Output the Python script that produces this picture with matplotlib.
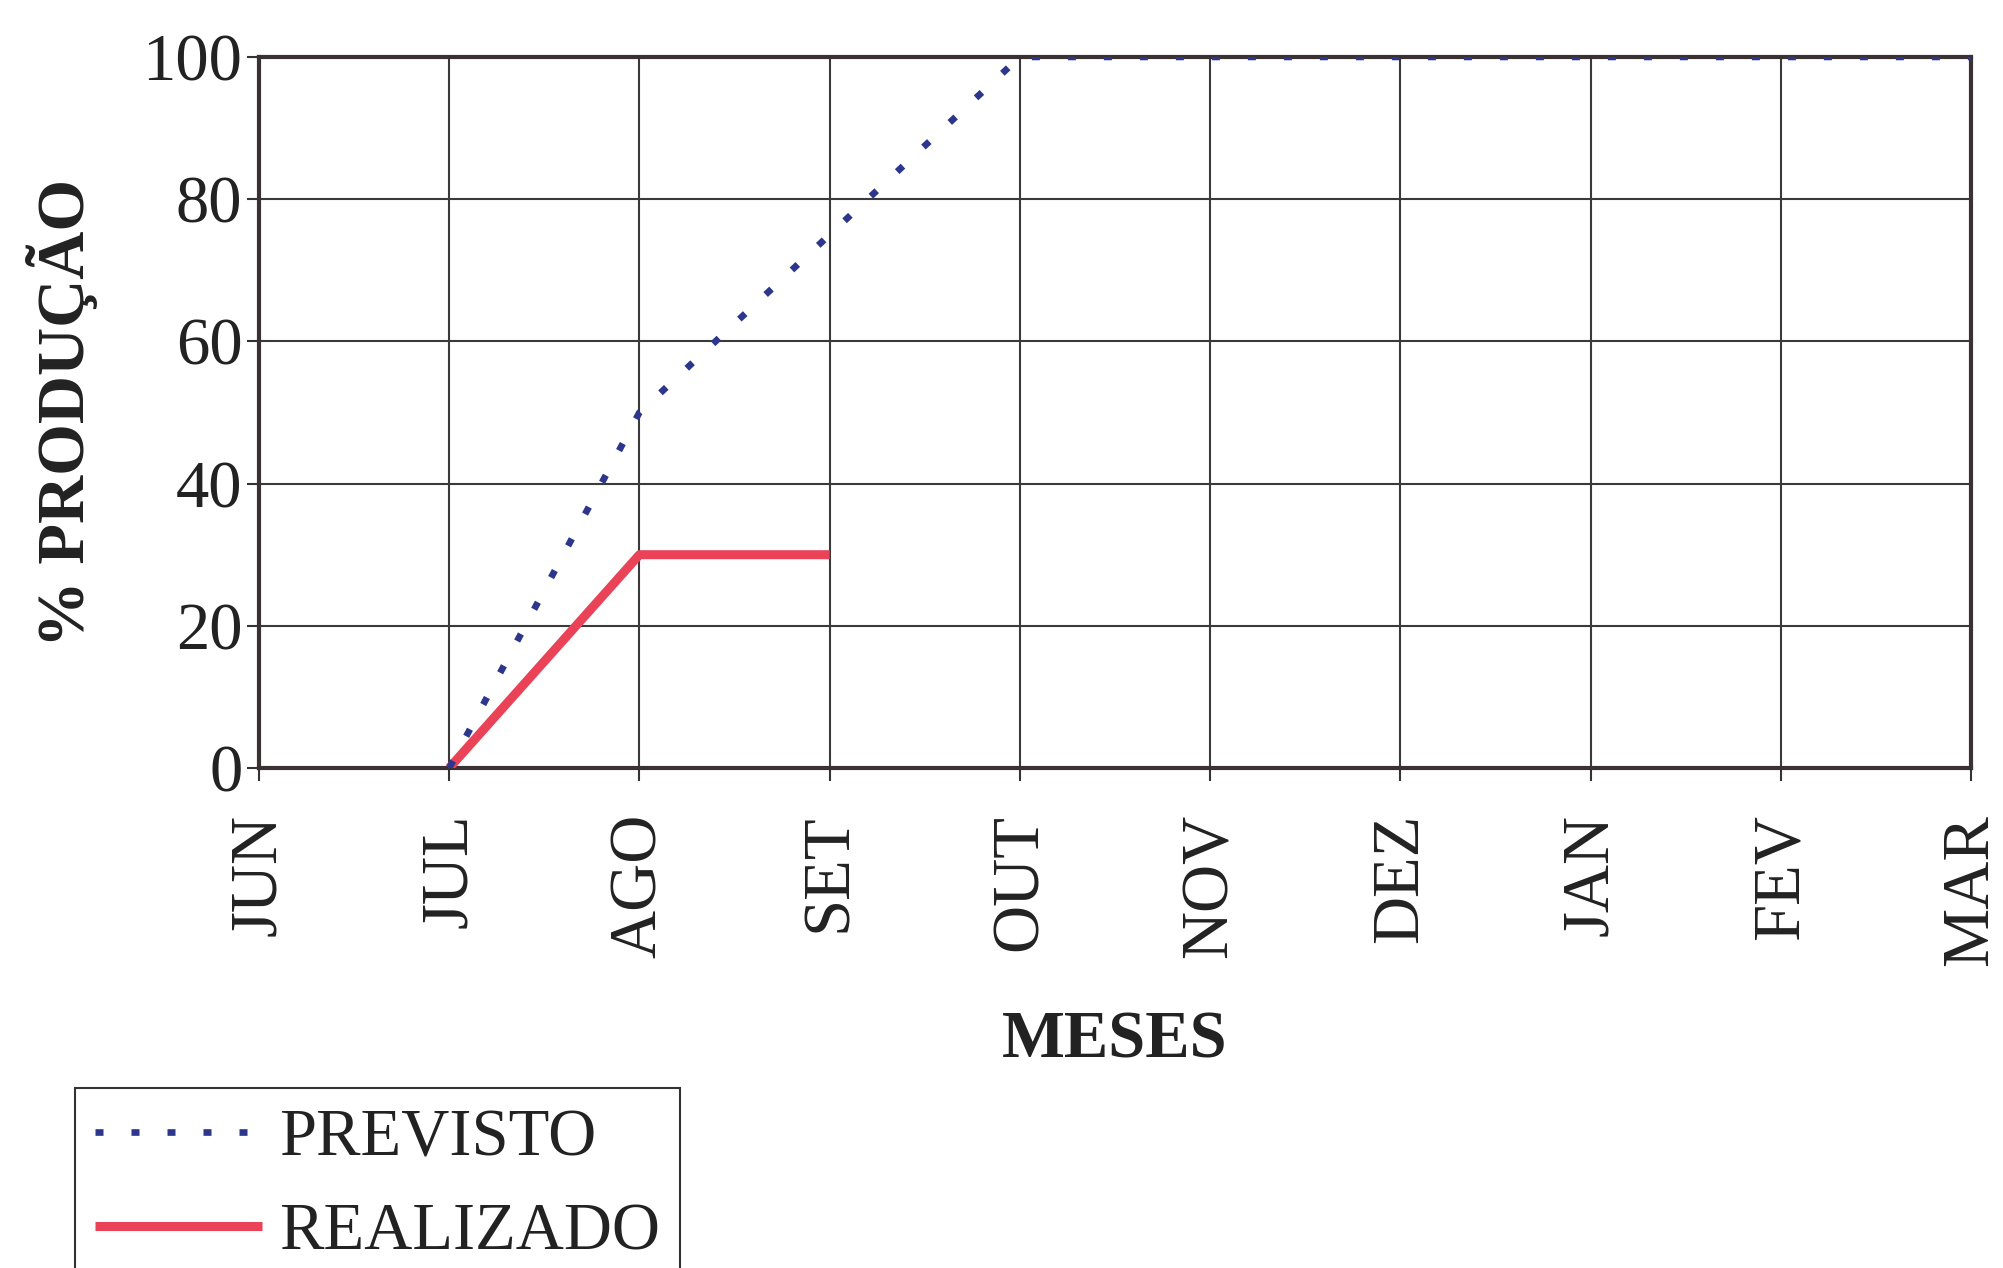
import matplotlib.pyplot as plt

# dados
meses = ['JUN', 'JUL', 'AGO', 'SET', 'OUT', 'NOV', 'DEZ', 'JAN', 'FEV', 'MAR']
previsto_meses = ['JUL', 'AGO', 'SET', 'OUT', 'NOV', 'DEZ', 'JAN', 'FEV', 'MAR']
previsto = [0, 50, 75, 100, 100, 100, 100, 100, 100]
realizado_meses = ['JUL', 'AGO', 'SET']
realizado = [0, 30, 30]
yticks = [0, 20, 40, 60, 80, 100]

plt.rcParams['font.family'] = ['Liberation Serif', 'DejaVu Serif']

fig = plt.figure(figsize=(20.03, 12.68), dpi=100)
ax = fig.add_axes([0.1293, 0.3943, 0.8547, 0.5608])

xp = [meses.index(m) for m in previsto_meses]
xr = [meses.index(m) for m in realizado_meses]

ax.plot(xp, previsto, color='#2b368c', lw=4.8, linestyle=(0, (1.2, 4.2)),
        label='PREVISTO', zorder=4)
ax.plot(xr, realizado, color='#ea4358', lw=6.5, solid_capstyle='butt',
        label='REALIZADO', zorder=3)

ax.set_xlim(0, len(meses) - 1)
ax.set_ylim(0, 100)
ax.set_xticks(range(len(meses)))
ax.set_xticklabels(meses, rotation=90, fontsize=48, color='#222222')
ax.set_yticks(yticks)
ax.set_yticklabels([str(v) for v in yticks], fontsize=48, color='#222222')
ax.tick_params(axis='x', direction='out', length=9, width=1.5, pad=24, color='#333333')
ax.tick_params(axis='y', direction='out', length=9, width=1.5, pad=3, color='#333333')

ax.grid(True, color='#3a3a3a', lw=1.5)
ax.set_axisbelow(True)
for s in ax.spines.values():
    s.set_linewidth(3)
    s.set_color('#3a3232')

ax.set_xlabel('MESES', fontsize=48, fontweight='bold', color='#222222', labelpad=32)
ax.set_ylabel('% PRODUÇÃO', fontsize=48, fontweight='bold', color='#222222', labelpad=32)

leg = fig.legend(loc='upper left', bbox_to_anchor=(0.021, 0.168), fontsize=48,
                 handlelength=2.5, handletextpad=0.25, labelspacing=0.5,
                 borderpad=0.3, fancybox=False, framealpha=1)
leg.get_frame().set_edgecolor('#333333')
leg.get_frame().set_linewidth(1.5)
for t in leg.get_texts():
    t.set_color('#222222')

fig.savefig('out.png', dpi=100)
